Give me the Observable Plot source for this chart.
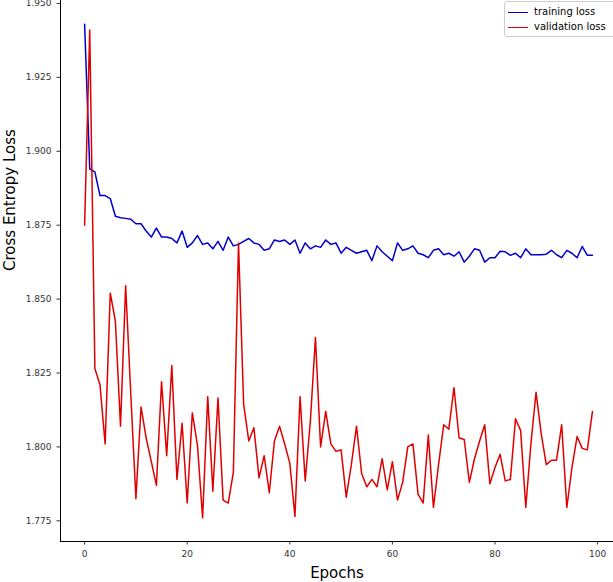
<!DOCTYPE html>
<html>
<head>
<meta charset="utf-8">
<script src="https://cdn.jsdelivr.net/npm/d3@7"></script>
<script src="https://cdn.jsdelivr.net/npm/@observablehq/plot@0.6"></script>
<style>
  body { margin: 0; background: #fff; font-family: "DejaVu Sans", sans-serif; }
  #wrap { position: relative; width: 613px; height: 582px; }
  #legend { position: absolute; left: 504px; top: 1px; width: 106px; border: 1px solid #ccc; border-radius: 3px;
    background: #fff; font-size: 10px; padding: 2px 3px; line-height: 15px; }
  #legend span.sw { display: inline-block; width: 20px; height: 0; border-top: 1.5px solid; vertical-align: middle; margin-right: 6px; }
</style>
</head>
<body>
<div id="wrap">
  <div id="chart"></div>
  <div id="legend">
    <div><span class="sw" style="border-color:#0000cc"></span>training loss</div>
    <div><span class="sw" style="border-color:#e00000"></span>validation loss</div>
  </div>
</div>
<script>
// valeurs, epochs 0..99
const training = [1.943,1.894,1.893,1.885,1.885,1.884,1.878,1.8775,1.8773,1.877,
  1.8755,1.8755,1.873,1.871,1.874,1.871,1.871,1.8705,1.869,1.873,
  1.8675,1.869,1.8715,1.8685,1.869,1.867,1.8695,1.8665,1.871,1.868,
  1.8685,1.8695,1.8705,1.869,1.8685,1.8665,1.867,1.870,1.8695,1.870,
  1.8685,1.870,1.8655,1.869,1.867,1.868,1.8675,1.870,1.8685,1.869,
  1.8655,1.8675,1.8665,1.8655,1.866,1.8665,1.863,1.868,1.866,1.8645,
  1.863,1.869,1.8665,1.867,1.868,1.8655,1.865,1.864,1.8665,1.867,
  1.865,1.8655,1.8645,1.866,1.8625,1.8645,1.867,1.8665,1.8625,1.864,
  1.864,1.8662,1.866,1.8648,1.8655,1.864,1.867,1.865,1.865,1.865,
  1.8652,1.8665,1.865,1.864,1.8665,1.8655,1.864,1.8678,1.8648,1.8648]
const validation = [1.875,1.941,1.8265,1.821,1.801,1.852,1.8425,1.807,1.8545,1.818,
  1.7825,1.8135,1.803,1.795,1.787,1.822,1.797,1.8275,1.789,1.808,
  1.781,1.8115,1.8005,1.776,1.817,1.785,1.8165,1.782,1.781,1.7915,
  1.869,1.8145,1.802,1.8065,1.7895,1.797,1.7845,1.802,1.807,1.801,
  1.7945,1.7765,1.817,1.7885,1.8085,1.837,1.800,1.812,1.801,1.7985,
  1.799,1.783,1.794,1.807,1.791,1.7865,1.789,1.7865,1.796,1.7855,
  1.795,1.782,1.788,1.800,1.801,1.784,1.781,1.804,1.7795,1.794,
  1.8075,1.806,1.820,1.803,1.8025,1.788,1.796,1.802,1.8075,1.7875,
  1.793,1.7975,1.7885,1.789,1.8095,1.8055,1.7795,1.801,1.8185,1.8045,
  1.794,1.7955,1.7955,1.8075,1.7795,1.793,1.8035,1.7995,1.799,1.812]
const xTicks = [0,20,40,60,80,100]
const yTicks = [1.775,1.800,1.825,1.850,1.875,1.900,1.925,1.950]

const rows = d3.range(training.length).map(i => ({epoch: i, training: training[i], validation: validation[i]}))

let chart = Plot.plot({
  width: 613,
  height: 582,
  marginLeft: 60,
  marginTop: 0,
  marginRight: 0,
  marginBottom: 41,
  style: {fontFamily: "DejaVu Sans, sans-serif", fontSize: "9px", color: "#333"},
  x: {domain: [-4.7, 103.1]},
  y: {domain: [1.768, 1.951]},
  marks: [
    Plot.line(rows, {x: "epoch", y: "training", stroke: "#0000cc", strokeWidth: 1.5}),
    Plot.line(rows, {x: "epoch", y: "validation", stroke: "#e00000", strokeWidth: 1.5}),
    Plot.axisX({ticks: xTicks, tickFormat: "d", label: null, tickSize: 3.5}),
    Plot.axisY({ticks: yTicks, tickFormat: ".3f", label: null, tickSize: 3.5}),
    Plot.ruleX([-4.7], {stroke: "#000"}),
    Plot.ruleY([1.768], {stroke: "#000"}),
    Plot.text(["Epochs"], {frameAnchor: "bottom", dy: 36, fontSize: 15, fill: "#000"}),
    Plot.text(["Cross Entropy Loss"], {frameAnchor: "left", dx: -50, rotate: -90, fontSize: 15, fill: "#000"})
  ]
})

d3.select('#chart').append(() => chart)
</script>
</body>
</html>
